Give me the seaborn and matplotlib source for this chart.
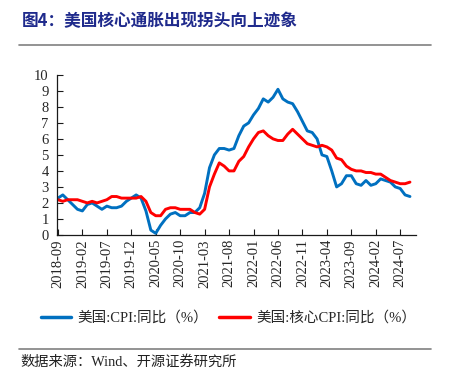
import numpy as np
import pandas as pd
import seaborn as sns
import matplotlib.pyplot as plt
from matplotlib.lines import Line2D

sns.set_theme(style='white')
plt.rcParams['font.family'] = ['Liberation Serif', 'Noto Sans CJK SC']
plt.rcParams['axes.unicode_minus'] = False

#%% data: monthly YoY, 2018-09 .. 2024-09
months = pd.period_range('2018-09', '2024-09', freq='M').strftime('%Y-%m').tolist()
cpi = [2.3, 2.5, 2.2, 1.9,
       1.6, 1.5, 1.9, 2.0, 1.8, 1.6, 1.8, 1.7, 1.7, 1.8, 2.1, 2.3,
       2.5, 2.3, 1.5, 0.3, 0.1, 0.6, 1.0, 1.3, 1.4, 1.2, 1.2, 1.4,
       1.4, 1.7, 2.6, 4.2, 5.0, 5.4, 5.4, 5.3, 5.4, 6.2, 6.8, 7.0,
       7.5, 7.9, 8.5, 8.3, 8.6, 9.1, 8.5, 8.3, 8.2, 7.7, 7.1, 6.5,
       6.4, 6.0, 5.0, 4.9, 4.0, 3.0, 3.2, 3.7, 3.7, 3.2, 3.1, 3.4,
       3.1, 3.2, 3.5, 3.4, 3.3, 3.0, 2.9, 2.5, 2.4]
core = [2.2, 2.1, 2.2, 2.2,
        2.2, 2.1, 2.0, 2.1, 2.0, 2.1, 2.2, 2.4, 2.4, 2.3, 2.3, 2.3,
        2.3, 2.4, 2.1, 1.4, 1.2, 1.2, 1.6, 1.7, 1.7, 1.6, 1.6, 1.6,
        1.4, 1.3, 1.6, 3.0, 3.8, 4.5, 4.3, 4.0, 4.0, 4.6, 4.9, 5.5,
        6.0, 6.4, 6.5, 6.2, 6.0, 5.9, 5.9, 6.3, 6.6, 6.3, 6.0, 5.7,
        5.6, 5.5, 5.6, 5.5, 5.3, 4.8, 4.7, 4.3, 4.1, 4.0, 4.0, 3.9,
        3.9, 3.8, 3.8, 3.6, 3.4, 3.3, 3.2, 3.2, 3.3]
labels = ['美国:CPI:同比（%）', '美国:核心CPI:同比（%）']
colors = ['#0070C0', '#FF0000']

df = pd.DataFrame({'month': months, 'i': np.arange(len(months)),
                   labels[0]: cpi, labels[1]: core})

#%% plot
fig = plt.figure(figsize=(4.52, 3.82), dpi=100)
ax = fig.add_axes([0.126, 0.385, 0.794, 0.419])

for lab, c in zip(labels, colors):
    sns.lineplot(data=df, x='i', y=lab, color=c, lw=2.1, ax=ax, legend=False)

ticks = df['i'][::5]
ax.set(xlim=[-0.2, 73.2], ylim=[0, 10], yticks=range(0, 11),
       xticks=ticks, xlabel='', ylabel='')
ax.set_xticklabels(df['month'][::5], rotation=90)
ax.tick_params(axis='both', direction='in', length=4, width=0.8, color='k',
               labelsize=10.5, pad=3, left=True, bottom=True)
ax.tick_params(axis='y', pad=6)
sns.despine(ax=ax)
for s in ['left', 'bottom']:
    ax.spines[s].set_color('k')
    ax.spines[s].set_linewidth(0.9)

handles = [Line2D([], [], color=c, lw=2.5) for c in colors]
fig.legend(handles, labels, loc='center', bbox_to_anchor=(0.505, 1 - 318 / 382),
           ncol=2, frameon=False, fontsize=10.5, handlelength=2.1,
           handletextpad=0.4, columnspacing=0.8)

# title, rules and source
fig.text(22 / 452, 1 - 21 / 382, '图4：美国核心通胀出现拐头向上迹象', fontsize=12,
         fontweight='bold', color='#1F2A8C', va='center', ha='left',
         family=['Noto Sans CJK SC'])
for y in [45, 349]:
    fig.add_artist(Line2D([19 / 452, 431 / 452], [1 - y / 382, 1 - y / 382],
                          color='#808080', lw=1.2))
fig.text(20 / 452, 1 - 362 / 382, '数据来源：Wind、开源证券研究所', fontsize=10.3,
         va='center', ha='left', color='#222222')

fig.savefig('out.png', dpi=100, facecolor='white')
